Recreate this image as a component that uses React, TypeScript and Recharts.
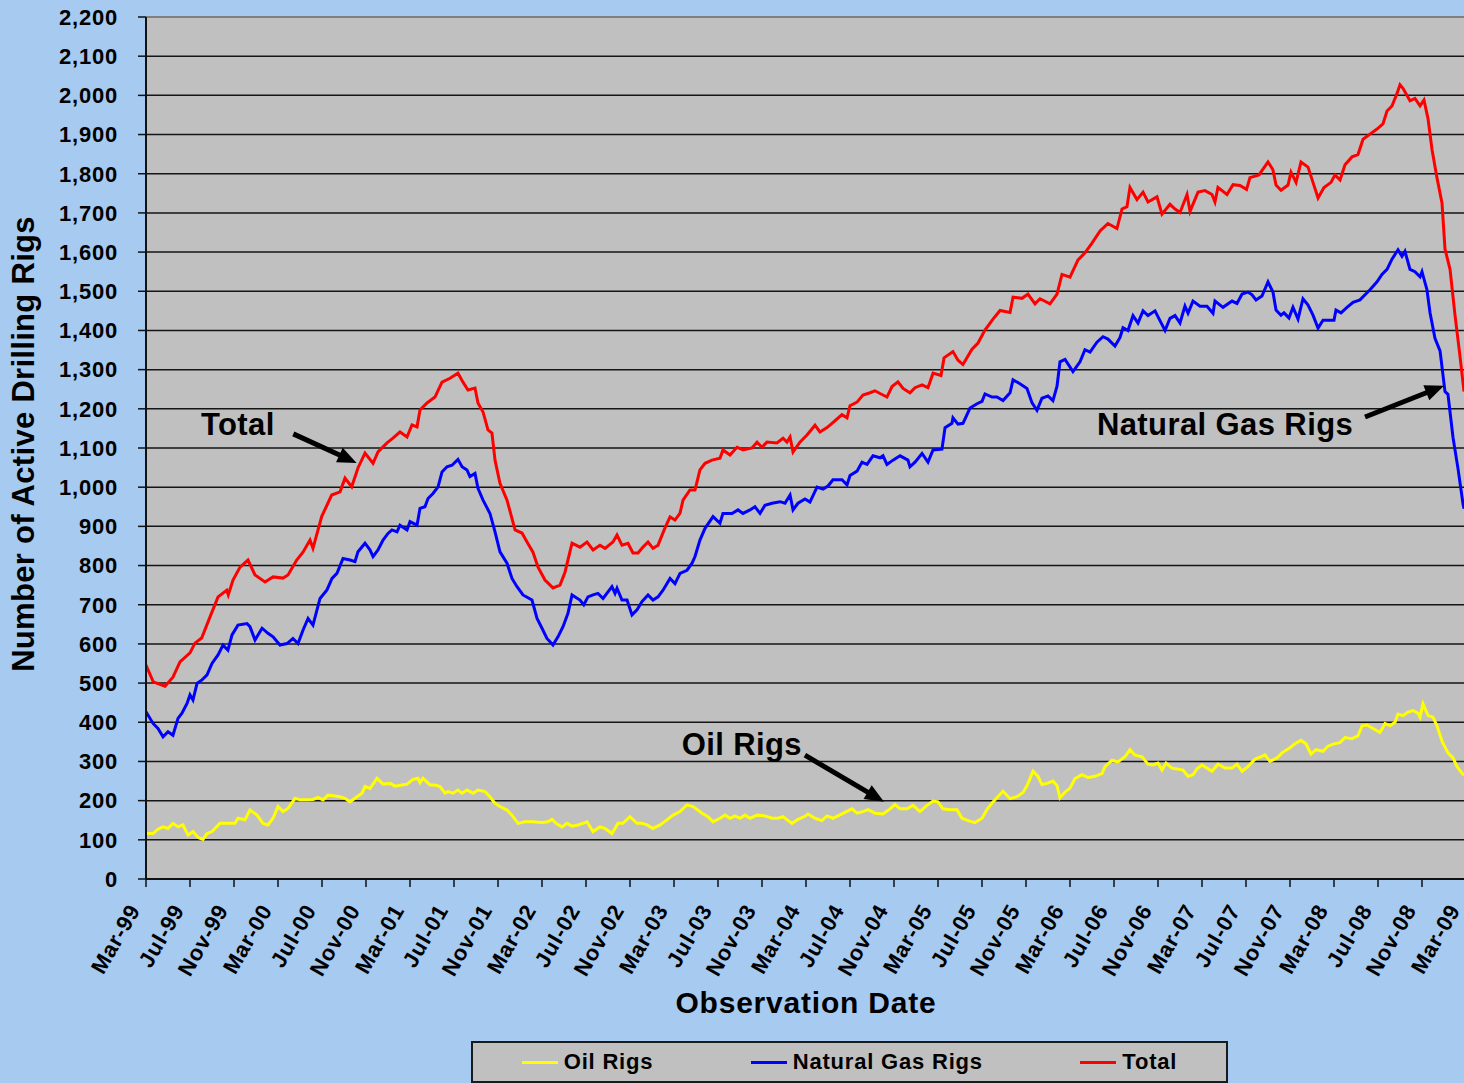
import React from 'react';
import { LineChart, Line, XAxis, YAxis, CartesianGrid, ReferenceLine, ReferenceDot } from 'recharts';

const FONT = '"Liberation Sans", Arial, Helvetica, sans-serif';

// Month offsets from Mar-99; tick every 4 months
const xTickLabels = [
  'Mar-99', 'Jul-99', 'Nov-99', 'Mar-00', 'Jul-00', 'Nov-00', 'Mar-01', 'Jul-01', 'Nov-01',
  'Mar-02', 'Jul-02', 'Nov-02', 'Mar-03', 'Jul-03', 'Nov-03', 'Mar-04', 'Jul-04', 'Nov-04',
  'Mar-05', 'Jul-05', 'Nov-05', 'Mar-06', 'Jul-06', 'Nov-06', 'Mar-07', 'Jul-07', 'Nov-07',
  'Mar-08', 'Jul-08', 'Nov-08', 'Mar-09',
];
const xTickValues = [0, 4, 8, 12, 16, 20, 24, 28, 32, 36, 40, 44, 48, 52, 56, 60, 64, 68, 72, 76, 80, 84, 88, 92, 96, 100, 104, 108, 112, 116, 120];
const yTickValues = [0, 100, 200, 300, 400, 500, 600, 700, 800, 900, 1000, 1100, 1200, 1300, 1400, 1500, 1600, 1700, 1800, 1900, 2000, 2100, 2200];

// [month offset from Mar-99, rig count]
const oilRigs: [number, number][] = [
  [0, 116], [0.64, 116], [1.09, 127], [1.55, 133], [2, 129], [2.45, 142], [2.91, 133], [3.36, 138], [3.82, 112], [4.27, 121],
  [4.73, 106], [5.18, 101], [5.55, 116], [6, 121], [6.73, 142], [7.36, 142], [8.09, 142], [8.36, 155], [9, 151], [9.45, 176],
  [10.09, 163], [10.64, 142], [11.09, 138], [11.55, 155], [12, 185], [12.45, 172], [12.91, 180], [13.55, 206], [14, 202], [14.64, 202],
  [15.18, 203], [15.64, 208], [16.09, 202], [16.55, 214], [17.18, 212], [17.64, 210], [18.09, 206], [18.55, 197], [19.18, 210], [19.64, 219],
  [19.91, 236], [20.36, 231], [21, 257], [21.55, 242], [22.18, 244], [22.64, 237], [23.27, 240], [23.73, 242], [24.27, 254], [24.73, 257],
  [24.91, 246], [25.18, 257], [25.82, 240], [26.27, 240], [26.73, 236], [27.18, 219], [27.45, 223], [27.91, 219], [28.36, 227], [28.73, 219],
  [29.18, 227], [29.73, 219], [30.18, 227], [30.82, 223], [31.27, 210], [31.73, 193], [32.18, 185], [32.82, 176], [33.27, 163], [33.82, 142],
  [34.45, 146], [35.18, 146], [36, 144], [36.55, 146], [36.91, 152], [37.36, 140], [37.82, 133], [38.27, 142], [38.73, 135], [39.27, 138],
  [39.91, 144], [40.09, 146], [40.64, 121], [41.27, 133], [41.73, 129], [42.36, 116], [42.91, 142], [43.36, 142], [44, 159], [44.64, 142],
  [45.09, 142], [45.55, 138], [46.09, 129], [46.73, 138], [47.36, 151], [47.91, 163], [48.55, 172], [49.18, 189], [49.73, 185], [50.55, 168],
  [51.09, 159], [51.55, 146], [52.18, 155], [52.64, 163], [53.09, 155], [53.55, 161], [54, 155], [54.45, 163], [54.91, 155], [55.55, 163],
  [56.27, 161], [56.91, 155], [57.45, 155], [57.91, 159], [58.73, 142], [59.27, 152], [59.91, 160], [60.18, 166], [60.82, 155], [61.45, 149],
  [61.91, 161], [62.45, 155], [63.27, 166], [64.18, 179], [64.64, 168], [65.18, 172], [65.64, 177], [66.27, 168], [67, 166], [67.64, 179],
  [68.09, 190], [68.55, 179], [69.18, 179], [69.73, 188], [70.36, 172], [71, 188], [71.55, 199], [72, 197], [72.45, 179], [73.09, 177],
  [73.73, 177], [74.18, 155], [74.73, 149], [75.36, 144], [76, 155], [76.45, 177], [76.91, 194], [77.45, 210], [77.91, 224], [78.55, 205],
  [79.18, 210], [79.73, 221], [80.09, 238], [80.64, 275], [81.09, 262], [81.45, 241], [81.91, 244], [82.45, 250], [82.82, 238], [83.09, 207],
  [83.55, 222], [84, 232], [84.45, 256], [85.09, 266], [85.64, 259], [86.27, 262], [86.91, 269], [87.18, 287], [87.82, 303], [88.36, 299],
  [89, 312], [89.45, 330], [89.91, 316], [90.55, 312], [91.09, 293], [91.55, 291], [92, 296], [92.36, 278], [92.73, 296], [93.27, 283],
  [93.73, 281], [94.27, 278], [94.73, 262], [95.18, 266], [95.55, 281], [96, 291], [96.45, 283], [96.91, 275], [97.45, 293], [98.09, 283],
  [98.73, 283], [99.18, 293], [99.64, 275], [100.18, 287], [100.82, 306], [101.45, 313], [101.73, 317], [102.18, 300], [102.82, 309], [103.27, 322],
  [104, 335], [104.45, 345], [105, 354], [105.45, 345], [105.91, 319], [106.36, 330], [107, 326], [107.45, 339], [108, 345], [108.55, 348],
  [109, 361], [109.64, 358], [110.18, 365], [110.55, 391], [111, 393], [111.55, 384], [112.18, 374], [112.64, 397], [113.09, 391], [113.55, 400],
  [113.82, 421], [114.27, 417], [114.73, 426], [115.18, 430], [115.64, 423], [115.82, 413], [116.09, 447], [116.55, 417], [117, 413], [117.36, 391],
  [117.82, 352], [118.36, 322], [118.82, 309], [119.18, 287], [119.64, 270], [119.82, 265],
];

const gasRigs: [number, number][] = [
  [0, 427], [0.64, 397], [1.09, 384], [1.55, 363], [2, 376], [2.45, 367], [2.91, 410], [3.27, 423], [3.73, 448], [4, 470],
  [4.27, 457], [4.64, 499], [5.09, 508], [5.55, 521], [6, 550], [6.55, 572], [7, 597], [7.45, 584], [7.82, 623], [8.36, 648],
  [9.18, 652], [9.45, 644], [9.91, 610], [10.55, 640], [11.09, 627], [11.55, 618], [12.18, 597], [12.82, 601], [13.36, 614], [13.82, 601],
  [14.27, 635], [14.73, 665], [15.18, 648], [15.82, 716], [16.45, 738], [16.91, 767], [17.36, 780], [17.91, 818], [18.55, 814], [19, 810],
  [19.27, 835], [19.91, 857], [20.36, 840], [20.64, 823], [21.09, 840], [21.55, 865], [22, 882], [22.36, 891], [22.82, 886], [23.09, 903],
  [23.73, 891], [24, 912], [24.64, 903], [24.91, 946], [25.36, 950], [25.64, 971], [26.09, 984], [26.55, 1001], [26.91, 1039], [27.36, 1052],
  [27.82, 1056], [28.36, 1071], [28.73, 1052], [29.18, 1044], [29.45, 1027], [29.91, 1035], [30.18, 997], [30.64, 967], [31.27, 933], [31.73, 886],
  [32.18, 835], [32.82, 806], [33.27, 767], [33.73, 746], [34.27, 725], [35.09, 712], [35.55, 665], [36, 640], [36.45, 614], [37, 597],
  [37.45, 618], [37.91, 644], [38.36, 678], [38.73, 725], [39.45, 712], [39.8, 700], [40.18, 720], [40.64, 725], [41.09, 729], [41.55, 716],
  [42.36, 746], [42.64, 729], [42.82, 742], [43.27, 712], [43.73, 712], [44.18, 674], [44.64, 687], [45.09, 708], [45.64, 725], [46.09, 712],
  [46.55, 720], [47, 737], [47.64, 767], [48.09, 754], [48.55, 780], [49.18, 788], [49.64, 806], [49.91, 823], [50.36, 865], [50.82, 895],
  [51.55, 925], [52.18, 908], [52.45, 933], [53.27, 933], [53.82, 942], [54.27, 933], [54.91, 942], [55.36, 950], [55.82, 933], [56.27, 954],
  [56.91, 959], [57.64, 963], [58.09, 959], [58.55, 980], [58.82, 942], [59.27, 959], [59.91, 970], [60.36, 962], [61, 1000], [61.55, 995],
  [62, 1003], [62.45, 1019], [63.27, 1019], [63.73, 1006], [64, 1030], [64.64, 1041], [65.09, 1064], [65.55, 1058], [66.09, 1080], [66.73, 1075],
  [67, 1080], [67.36, 1058], [67.91, 1069], [68.55, 1080], [69.27, 1069], [69.45, 1052], [69.91, 1064], [70.55, 1086], [71.09, 1064], [71.55, 1095],
  [72.36, 1097], [72.64, 1152], [73.27, 1163], [73.36, 1177], [73.82, 1161], [74.27, 1163], [74.91, 1202], [75.55, 1213], [76, 1219], [76.27, 1238],
  [76.91, 1230], [77.36, 1230], [77.91, 1221], [78.55, 1241], [78.82, 1274], [79.45, 1264], [80.09, 1252], [80.55, 1215], [81, 1196], [81.45, 1227],
  [82, 1233], [82.45, 1221], [82.82, 1258], [83.09, 1320], [83.55, 1326], [84.27, 1295], [84.91, 1320], [85.36, 1351], [85.82, 1345], [86.45, 1370],
  [87, 1384], [87.45, 1378], [88.09, 1360], [88.55, 1382], [88.82, 1407], [89.27, 1400], [89.73, 1438], [90.18, 1419], [90.64, 1450], [91.09, 1438],
  [91.73, 1450], [92.18, 1425], [92.64, 1400], [93.09, 1431], [93.55, 1438], [94, 1419], [94.45, 1462], [94.73, 1444], [95.18, 1475], [95.82, 1462],
  [96.45, 1462], [97, 1444], [97.18, 1475], [97.91, 1459], [98.73, 1475], [99.18, 1469], [99.64, 1493], [100.18, 1498], [100.55, 1491], [100.91, 1478],
  [101.45, 1488], [102, 1524], [102.45, 1498], [102.73, 1452], [103.18, 1439], [103.45, 1445], [103.91, 1432], [104.27, 1459], [104.73, 1429], [105.18, 1481],
  [105.64, 1465], [106.09, 1439], [106.55, 1406], [107, 1426], [107.55, 1426], [108, 1426], [108.18, 1452], [108.64, 1445], [109.18, 1459], [109.73, 1472],
  [110.36, 1478], [110.82, 1491], [111.27, 1504], [111.91, 1524], [112.36, 1543], [112.82, 1556], [113.27, 1582], [113.82, 1606], [114.18, 1589], [114.45, 1602],
  [114.91, 1556], [115.36, 1550], [115.82, 1537], [116, 1550], [116.45, 1504], [116.73, 1445], [117.18, 1380], [117.64, 1348], [118.09, 1244], [118.36, 1237],
  [118.82, 1127], [119.27, 1048], [119.73, 957], [119.82, 945],
];

const totalRigs: [number, number][] = [
  [0, 546], [0.66, 503], [1.73, 492], [2.45, 515], [3.09, 554], [4, 577], [4.45, 602], [5.06, 615], [5.82, 669], [6.55, 720],
  [7.34, 737], [7.48, 725], [7.91, 763], [8.55, 796], [9.27, 814], [9.91, 776], [10.82, 758], [11.55, 771], [12.45, 768], [12.91, 776],
  [13.7, 814], [14.27, 834], [14.91, 865], [15.18, 844], [15.97, 925], [16.88, 980], [17.64, 988], [18.09, 1023], [18.7, 1001], [19.27, 1049],
  [19.91, 1087], [20.64, 1061], [21.09, 1090], [21.91, 1113], [22.45, 1125], [23.09, 1141], [23.73, 1128], [24.18, 1159], [24.64, 1154], [24.91, 1197],
  [25.55, 1215], [26.27, 1230], [26.91, 1268], [27.64, 1278], [28.36, 1291], [28.82, 1268], [29.27, 1248], [29.91, 1253], [30.18, 1215], [30.64, 1192],
  [31.09, 1146], [31.45, 1138], [31.73, 1069], [32.18, 1010], [32.82, 967], [33.55, 891], [34.18, 883], [34.64, 860], [35.18, 834], [35.64, 796],
  [36.27, 763], [37, 743], [37.64, 750], [38.09, 783], [38.73, 857], [39.45, 847], [40.09, 860], [40.64, 840], [41.27, 852], [41.73, 844],
  [42.45, 860], [42.82, 878], [43.27, 852], [43.82, 857], [44.27, 832], [44.73, 832], [45.18, 847], [45.64, 860], [46.09, 844], [46.55, 852],
  [47.18, 896], [47.64, 924], [48.09, 916], [48.55, 934], [48.82, 967], [49.45, 993], [49.91, 993], [50.36, 1044], [50.82, 1061], [51.45, 1069],
  [52.18, 1074], [52.45, 1095], [53.09, 1082], [53.73, 1102], [54.27, 1095], [55.09, 1100], [55.55, 1115], [56, 1102], [56.45, 1115], [57.36, 1113],
  [57.91, 1125], [58.27, 1115], [58.55, 1128], [58.82, 1090], [59.45, 1115], [60.09, 1133], [60.82, 1158], [61.27, 1141], [61.91, 1152], [62.36, 1163],
  [62.82, 1174], [63.27, 1185], [63.73, 1177], [64, 1208], [64.64, 1217], [65.18, 1235], [65.82, 1241], [66.27, 1246], [66.73, 1239], [67.36, 1230],
  [67.82, 1257], [68.36, 1269], [68.82, 1252], [69.45, 1241], [69.91, 1254], [70.55, 1261], [71.09, 1254], [71.55, 1291], [72.27, 1285], [72.55, 1330],
  [73.36, 1346], [73.82, 1324], [74.27, 1313], [75.09, 1352], [75.64, 1368], [76.27, 1401], [77, 1429], [77.64, 1451], [78.55, 1446], [78.82, 1485],
  [79.64, 1482], [80.18, 1493], [80.82, 1468], [81.27, 1481], [82.18, 1468], [82.82, 1493], [83.27, 1543], [84, 1536], [84.73, 1580], [85.36, 1598],
  [86, 1623], [86.73, 1654], [87.45, 1673], [88.27, 1660], [88.73, 1710], [89.18, 1716], [89.45, 1765], [90.09, 1734], [90.64, 1753], [91.09, 1728],
  [91.91, 1741], [92.36, 1697], [93.09, 1722], [93.55, 1710], [94, 1701], [94.64, 1747], [94.91, 1704], [95.64, 1753], [96.27, 1757], [96.91, 1747],
  [97.18, 1728], [97.45, 1765], [98.27, 1747], [98.82, 1772], [99.45, 1770], [100.05, 1760], [100.36, 1790], [101.18, 1797], [102, 1830], [102.45, 1810],
  [102.73, 1771], [103.18, 1758], [103.82, 1771], [104.09, 1804], [104.55, 1778], [105, 1830], [105.64, 1817], [106.09, 1778], [106.55, 1738], [107.09, 1765],
  [107.73, 1778], [108.09, 1797], [108.55, 1784], [109, 1823], [109.64, 1843], [110.18, 1849], [110.64, 1888], [111.27, 1901], [111.91, 1914], [112.45, 1927],
  [112.82, 1960], [113.27, 1973], [113.73, 2005], [114, 2027], [114.27, 2018], [114.91, 1986], [115.36, 1992], [115.82, 1973], [116.18, 1988], [116.55, 1940],
  [116.91, 1862], [117.36, 1790], [117.82, 1725], [118.09, 1608], [118.55, 1556], [119, 1439], [119.45, 1335], [119.82, 1244],
];

const seriesNames = ['Oil Rigs', 'Natural Gas Rigs', 'Total'];
const seriesColors = ['#FFFF00', '#0000FF', '#FF0000'];

// annotations in data units (month offset, rig count)
const annotationTexts = [
  { text: 'Total', m: 5.0, v: 1133 },
  { text: 'Natural Gas Rigs', m: 86.45, v: 1133 },
  { text: 'Oil Rigs', m: 48.7, v: 316 },
];
const annotationArrows = [
  { from: { m: 13.39, v: 1136 }, to: { m: 19.15, v: 1062 } },
  { from: { m: 110.82, v: 1179 }, to: { m: 118.0, v: 1259 } },
  { from: { m: 59.9, v: 316 }, to: { m: 67.09, v: 197 } },
];

const toPoints = (arr: [number, number][]) => arr.map(([m, v]) => ({ m, v }));
const oilData = toPoints(oilRigs);
const gasData = toPoints(gasRigs);
const totalData = toPoints(totalRigs);

const fmt = (n: number) => n.toLocaleString('en-US');

function XTick(props: any) {
  const { x, y, index } = props;
  const tx = x - 5;
  return (
    <text
      x={tx}
      y={y}
      transform={`rotate(-60, ${tx}, ${y})`}
      textAnchor="end"
      fontFamily={FONT}
      fontSize={22}
      fontWeight="bold"
      letterSpacing={0.8}
      fill="#000"
    >
      {xTickLabels[index]}
    </text>
  );
}

function YTitle() {
  return (
    <text
      x={34}
      y={444}
      transform="rotate(-90, 34, 444)"
      textAnchor="middle"
      fontFamily={FONT}
      fontSize={31}
      fontWeight="bold"
      letterSpacing={0.3}
      fill="#000"
    >
      Number of Active Drilling Rigs
    </text>
  );
}

function XTitle() {
  return (
    <text x={806} y={1013} textAnchor="middle" fontFamily={FONT} fontSize={30} fontWeight="bold" letterSpacing={0.8} fill="#000">
      Observation Date
    </text>
  );
}

function ArrowShape(props: any) {
  const { x1, y1, x2, y2 } = props;
  const dx = x2 - x1;
  const dy = y2 - y1;
  const len = Math.sqrt(dx * dx + dy * dy) || 1;
  const ux = dx / len;
  const uy = dy / len;
  const head = 19;
  const half = 8;
  const bx = x2 - ux * head;
  const by = y2 - uy * head;
  const px = -uy;
  const py = ux;
  return (
    <g>
      <line x1={x1} y1={y1} x2={bx + ux * 2} y2={by + uy * 2} stroke="#000" strokeWidth={5} />
      <polygon points={`${x2},${y2} ${bx + px * half},${by + py * half} ${bx - px * half},${by - py * half}`} fill="#000" />
    </g>
  );
}

function LegendBox() {
  const items = seriesNames.map((name, i) => ({ name, color: seriesColors[i] }));
  return (
    <div
      style={{
        position: 'absolute',
        left: 471,
        top: 1041,
        width: 757,
        height: 42,
        boxSizing: 'border-box',
        border: '2px solid #1a1a1a',
        background: '#C0C0C0',
        display: 'flex',
        justifyContent: 'space-around',
        alignItems: 'center',
        fontFamily: FONT,
        fontWeight: 'bold',
        fontSize: 22,
        letterSpacing: 0.8,
        color: '#000',
      }}
    >
      {items.map((it) => (
        <div key={it.name} style={{ display: 'flex', alignItems: 'center' }}>
          <span style={{ display: 'inline-block', width: 36, height: 3, background: it.color, marginRight: 6 }} />
          <span style={{ lineHeight: '24px' }}>{it.name}</span>
        </div>
      ))}
    </div>
  );
}

export default function App() {
  return (
    <div
      style={{
        position: 'absolute',
        left: 0,
        top: 0,
        width: 1464,
        height: 1083,
        overflow: 'hidden',
        background: '#A6CAF0',
      }}
    >
      <LineChart width={1480} height={1083} margin={{ top: 17, right: 14, bottom: 0, left: 0 }}>
        <CartesianGrid vertical={false} fill="#C0C0C0" fillOpacity={1} stroke="#151515" strokeWidth={1.5} />
        <XAxis
          dataKey="m"
          type="number"
          domain={[0, 120]}
          ticks={xTickValues}
          interval={0}
          height={204}
          tickSize={8}
          tickMargin={23}
          tick={<XTick />}
          axisLine={{ stroke: '#111', strokeWidth: 2 }}
          tickLine={{ stroke: '#111', strokeWidth: 1.5 }}
          allowDataOverflow
          label={<XTitle />}
        />
        <YAxis
          type="number"
          domain={[0, 2200]}
          ticks={yTickValues}
          interval={0}
          width={146}
          tickSize={8}
          tickMargin={20}
          tickFormatter={fmt}
          tick={{ fontFamily: FONT, fontSize: 22, fontWeight: 'bold', fill: '#000', letterSpacing: 0.8 }}
          axisLine={{ stroke: '#111', strokeWidth: 2 }}
          tickLine={{ stroke: '#111', strokeWidth: 1.5 }}
          label={<YTitle />}
        />
        <ReferenceLine y={2200} stroke="#808080" strokeWidth={2} />
        <Line data={oilData} dataKey="v" name={seriesNames[0]} type="linear" stroke={seriesColors[0]} strokeWidth={3} dot={false} isAnimationActive={false} />
        <Line data={gasData} dataKey="v" name={seriesNames[1]} type="linear" stroke={seriesColors[1]} strokeWidth={3} dot={false} isAnimationActive={false} />
        <Line data={totalData} dataKey="v" name={seriesNames[2]} type="linear" stroke={seriesColors[2]} strokeWidth={3} dot={false} isAnimationActive={false} />
        {annotationArrows.map((a, i) => (
          <ReferenceLine
            key={`arrow-${i}`}
            segment={[{ x: a.from.m, y: a.from.v }, { x: a.to.m, y: a.to.v }]}
            shape={(p: any) => <ArrowShape {...p} />}
          />
        ))}
        {annotationTexts.map((t) => (
          <ReferenceDot
            key={t.text}
            x={t.m}
            y={t.v}
            r={0}
            shape={(p: any) => (
              <text x={p.cx} y={p.cy} fontFamily={FONT} fontSize={31} fontWeight="bold" letterSpacing={0.4} fill="#000">
                {t.text}
              </text>
            )}
          />
        ))}
      </LineChart>
      <LegendBox />
    </div>
  );
}
